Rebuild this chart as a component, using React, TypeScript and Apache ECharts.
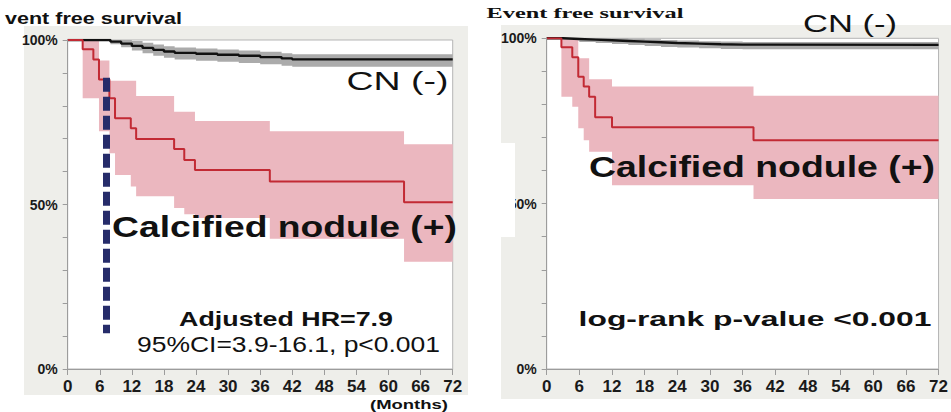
import React, { useEffect, useRef } from "react";
import * as echarts from "echarts";

// ---------- data ----------
const yLabelValues = [0, 50, 100];

// Left panel: CN(-)
const leftCnTime = [0, 8, 10, 12, 14, 16, 18, 20, 24, 28, 32, 36, 40, 42, 72];
const leftCnSurv = [100, 99.5, 98.9, 98.2, 97.6, 97.0, 96.5, 96.1, 95.8, 95.5, 95.2, 94.8, 94.4, 94.1, 94.1];
const leftCnUpper = [100, 100, 100, 99.7, 99.2, 98.6, 98.1, 97.7, 97.4, 97.1, 96.8, 96.4, 96.0, 95.7, 95.7];
const leftCnLower = [100, 98.7, 97.8, 96.8, 96.0, 95.2, 94.6, 94.1, 93.7, 93.4, 93.0, 92.6, 92.2, 91.9, 91.9];

// Left panel: Calcified nodule (+)
const leftCalTime = [0, 2.8, 4.8, 5.85, 7.8, 8.85, 11.8, 12.8, 19.9, 21.8, 23.8, 37.8, 62.9, 72];
const leftCalSurv = [100, 97.2, 94.1, 88.0, 82.3, 76.2, 73.2, 69.9, 66.9, 63.5, 60.5, 57.0, 50.7, 50.7];
const leftCalUpper = [100, 100, 100, 93.8, 87.6, 87.6, 87.6, 83.0, 78.2, 78.2, 75.4, 72.3, 68.3, 68.3];
const leftCalLower = [100, 82.3, 82.3, 72.3, 65.6, 59.0, 55.5, 52.5, 48.9, 47.0, 45.9, 39.6, 32.6, 32.6];

// Dashed marker (month, from %, to %)
const markerMonth = 7.2;
const markerFrom = 88.5;
const markerTo = 10.9;

// Right panel: CN(-)
const rightCnTime = [0, 3, 6, 9, 12, 15, 18, 21, 24, 28, 32, 36, 72];
const rightCnSurv = [100, 99.8, 99.6, 99.4, 99.2, 99.0, 98.8, 98.6, 98.4, 98.2, 98.1, 98.0, 98.0];
const rightCnUpper = [100, 100, 100, 100, 100, 99.9, 99.7, 99.5, 99.3, 99.1, 99.0, 98.9, 98.9];
const rightCnLower = [100, 99.3, 98.9, 98.6, 98.3, 98.0, 97.7, 97.4, 97.2, 97.0, 96.8, 96.7, 96.7];

// Right panel: Calcified nodule (+)
const rightCalTime = [0, 2.7, 4.7, 5.8, 6.8, 7.8, 8.9, 12.0, 38.0, 72];
const rightCalSurv = [100, 97.3, 94.3, 88.4, 85.4, 82.3, 76.1, 73.1, 69.2, 69.2];
const rightCalUpper = [100, 100, 100, 94.0, 94.0, 87.6, 87.6, 85.4, 82.6, 82.6];
const rightCalLower = [100, 82.3, 79.3, 72.8, 69.2, 65.7, 65.7, 55.6, 51.4, 51.4];

// ---------- helpers ----------
const SANS = '"Liberation Sans", Arial, sans-serif';
const NARROW = '"Liberation Sans Narrow", "Arial Narrow", "Liberation Sans", sans-serif';
const SERIF = '"Liberation Serif", "Times New Roman", serif';

const pairs = (t: number[], v: number[]) => t.map((x, i) => [x, v[i]]);

let measureCtx: CanvasRenderingContext2D | null = null;
function measure(text: string, font: string) {
  if (!measureCtx) measureCtx = document.createElement("canvas").getContext("2d");
  if (!measureCtx) return 1;
  measureCtx.font = font;
  return measureCtx.measureText(text).width || 1;
}

function fitText(
  text: string,
  cx: number,
  cy: number,
  targetW: number,
  size: number,
  weight: string,
  family: string = SANS
) {
  const font = `${weight} ${size}px ${family}`;
  const s = targetW / measure(text, font);
  return {
    type: "text",
    x: cx,
    y: cy,
    z: 20,
    scaleX: s,
    silent: true,
    style: { text, font, fill: "#111", align: "center", verticalAlign: "middle" },
  };
}

// Step-shaped confidence band drawn as one polygon through the axes' scales
function band(idx: number, t: number[], up: number[], lo: number[], color: string) {
  return {
    type: "custom",
    xAxisIndex: idx,
    yAxisIndex: idx,
    silent: true,
    z: 2,
    data: [[t[0], up[0]]],
    renderItem: (_params: any, api: any) => {
      const pts: number[][] = [];
      for (let i = 0; i < t.length - 1; i++) {
        pts.push(api.coord([t[i], up[i]]));
        pts.push(api.coord([t[i + 1], up[i]]));
      }
      for (let i = t.length - 2; i >= 0; i--) {
        pts.push(api.coord([t[i + 1], lo[i]]));
        pts.push(api.coord([t[i], lo[i]]));
      }
      return { type: "polygon", shape: { points: pts }, style: { fill: color } };
    },
  };
}

function curve(idx: number, t: number[], v: number[], color: string, width: number, extra: any = {}) {
  return {
    type: "line",
    xAxisIndex: idx,
    yAxisIndex: idx,
    step: "end",
    symbol: "none",
    silent: true,
    data: pairs(t, v),
    lineStyle: { color, width },
    z: 3,
    ...extra,
  };
}

function xAxisCfg(gridIndex: number) {
  return {
    type: "value",
    gridIndex,
    min: 0,
    max: 72,
    interval: 6,
    z: 4,
    axisLine: { show: true, lineStyle: { color: "#9c9c9c", width: 1 } },
    axisTick: { show: true, length: 6, lineStyle: { color: "#9c9c9c" } },
    axisLabel: { margin: 9, color: "#1a1a1a", fontFamily: NARROW, fontWeight: "bold", fontSize: 17 },
    splitLine: { show: false },
  };
}

function yAxisCfg(gridIndex: number) {
  return {
    type: "value",
    gridIndex,
    min: 0,
    max: 100,
    interval: 10,
    z: 4,
    axisLine: { show: true, lineStyle: { color: "#9c9c9c", width: 1 } },
    axisTick: { show: true, length: 5, lineStyle: { color: "#9c9c9c" } },
    axisLabel: {
      margin: 10,
      color: "#1a1a1a",
      fontFamily: NARROW,
      fontWeight: "bold",
      fontSize: 14,
      formatter: (v: number) => (yLabelValues.indexOf(v) >= 0 ? `${v}%` : ""),
    },
    splitLine: { show: false },
  };
}

export default function App() {
  const ref = useRef<HTMLDivElement>(null);

  useEffect(() => {
    document.body.style.margin = "0";
    if (!ref.current) return;
    const chart = echarts.init(ref.current, null, { renderer: "svg" });

    const PINK = "#ebb7bf";
    const RED = "#c22a34";
    const GRAY = "#ababab";
    const PANEL = "#eeeeea";

    const option: any = {
      animation: false,
      backgroundColor: "#ffffff",
      grid: [
        {
          left: 67.7,
          top: 40,
          width: 385,
          height: 329,
          show: true,
          backgroundColor: "#ffffff",
          borderColor: "#b5b5b5",
          borderWidth: 1,
          z: 1,
        },
        {
          left: 546.7,
          top: 38.3,
          width: 395,
          height: 330.7,
          show: true,
          backgroundColor: "#ffffff",
          borderColor: "#b5b5b5",
          borderWidth: 1,
          z: 1,
        },
      ],
      xAxis: [xAxisCfg(0), xAxisCfg(1)],
      yAxis: [yAxisCfg(0), yAxisCfg(1)],
      series: [
        band(0, leftCnTime, leftCnUpper, leftCnLower, GRAY),
        band(0, leftCalTime, leftCalUpper, leftCalLower, PINK),
        curve(0, leftCnTime, leftCnSurv, "#111111", 2.4),
        curve(0, leftCalTime, leftCalSurv, RED, 2, {
          markLine: {
            silent: true,
            symbol: ["none", "none"],
            label: { show: false },
            lineStyle: { color: "#262c6a", width: 7, type: [14, 5], cap: "butt" },
            data: [[{ coord: [markerMonth, markerFrom] }, { coord: [markerMonth, markerTo] }]],
            z: 5,
          },
        }),
        band(1, rightCnTime, rightCnUpper, rightCnLower, GRAY),
        band(1, rightCalTime, rightCalUpper, rightCalLower, PINK),
        curve(1, rightCnTime, rightCnSurv, "#111111", 2.4),
        curve(1, rightCalTime, rightCalSurv, RED, 2),
      ],
      graphic: [
        { type: "rect", z: -10, silent: true, shape: { x: 24, y: 26, width: 444, height: 369 }, style: { fill: PANEL } },
        { type: "rect", z: -10, silent: true, shape: { x: 501, y: 25, width: 450, height: 374 }, style: { fill: PANEL } },
        { type: "rect", z: 30, silent: true, shape: { x: 470, y: 143, width: 45, height: 94 }, style: { fill: "#ffffff" } },
        fitText("vent free survival", 93.5, 18.6, 177, 16, "bold"),
        fitText("CN (-)", 397.5, 81, 102, 25.5, "normal"),
        fitText("Calcified nodule (+)", 284.5, 227, 345, 29, "bold"),
        fitText("Adjusted HR=7.9", 286, 319.7, 214, 20, "bold"),
        fitText("95%CI=3.9-16.1, p<0.001", 288.5, 344, 303, 22, "normal"),
        fitText("(Months)", 409, 404.5, 78, 12, "bold"),
        fitText("Event free survival", 585, 13.3, 197, 15, "bold", SERIF),
        fitText("CN (-)", 850, 23.5, 94, 23.5, "normal"),
        fitText("Calcified nodule (+)", 762, 166, 346, 30, "bold"),
        fitText("log-rank p-value <0.001", 755, 319.4, 353, 21, "bold"),
      ],
    };

    chart.setOption(option);
    return () => chart.dispose();
  }, []);

  return (
    <div
      ref={ref}
      style={{ position: "fixed", left: 0, top: 0, width: 951, height: 412, background: "#fff" }}
    />
  );
}
